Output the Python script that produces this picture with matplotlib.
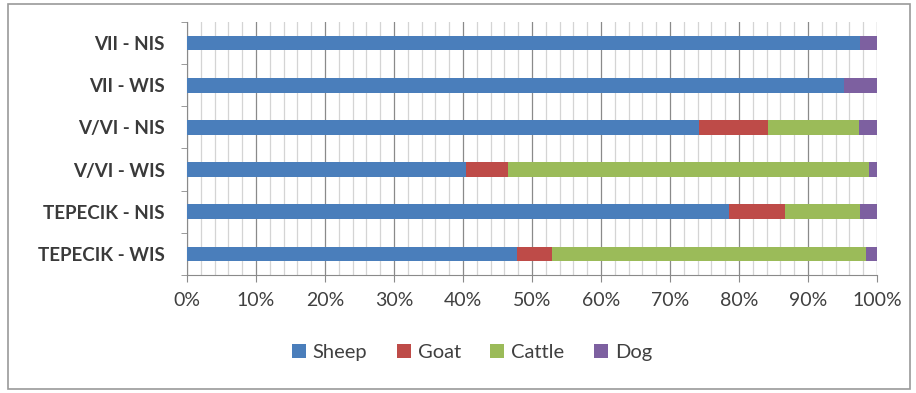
import numpy as np
import matplotlib.pyplot as plt
from matplotlib.patches import Rectangle
from matplotlib.ticker import MultipleLocator, PercentFormatter

plt.rcParams['font.family'] = ['Lato', 'DejaVu Sans']

# bone fragment proportions (%) per phase and context
groups = ['VII - NIS', 'VII - WIS', 'V/VI - NIS', 'V/VI - WIS', 'TEPECIK - NIS', 'TEPECIK - WIS']
sheep = [97.5, 95.2, 74.2, 40.4, 78.5, 47.8]
goat = [0.0, 0.0, 10.0, 6.1, 8.2, 5.1]
cattle = [0.0, 0.0, 13.2, 52.4, 10.8, 45.5]
dog = [2.5, 4.8, 2.6, 1.1, 2.5, 1.6]

species = ['Sheep', 'Goat', 'Cattle', 'Dog']
colours = ['#4a7ebb', '#be4b48', '#9bbb59', '#7d60a0']

fig = plt.figure(figsize=(9.16, 3.93), dpi=100)
ax = fig.add_axes([0.2042, 0.3003, 0.7532, 0.6437])

# plot top-down in the listed order
y = np.arange(len(groups))[::-1]
left = np.zeros(len(groups))
for vals, name, c in zip([sheep, goat, cattle, dog], species, colours):
    vals = np.array(vals)
    ax.barh(y, vals, left=left, height=0.35, color=c, label=name, zorder=3)
    left += vals

ax.set_xlim(0, 100)
ax.set_ylim(-0.5, len(groups) - 0.5)
ax.xaxis.set_major_locator(MultipleLocator(10))
ax.xaxis.set_minor_locator(MultipleLocator(2))
ax.xaxis.set_major_formatter(PercentFormatter(decimals=0))
ax.grid(which='major', axis='x', color='#8a8a8a', lw=0.9, zorder=1)
ax.grid(which='minor', axis='x', color='#d4d4d4', lw=0.9, zorder=0)

ax.set_yticks(y)
ax.set_yticklabels(groups, fontsize=13.5, fontweight='bold', color='#3a3a3a')
ax.set_yticks(np.arange(-0.5, len(groups)), minor=True)
ax.tick_params(axis='y', which='major', length=0, pad=16)
ax.tick_params(axis='y', which='minor', length=4, color='#8a8a8a', direction='out')
ax.tick_params(axis='x', which='major', length=5, color='#8a8a8a', labelsize=14,
               labelcolor='#404040', pad=7)
ax.tick_params(axis='x', which='minor', length=0)

for s in ['top', 'right']:
    ax.spines[s].set_visible(False)
for s in ['left', 'bottom']:
    ax.spines[s].set_color('#8a8a8a')

leg = fig.legend(loc='center', bbox_to_anchor=(0.515, 0.102), ncol=4, frameon=False,
                 fontsize=14.5, handlelength=0.7, handleheight=0.7, handletextpad=0.35,
                 columnspacing=1.45)
for t in leg.get_texts():
    t.set_color('#404040')

# chart border
fig.patches.append(Rectangle((8 / 916, 4 / 393), 902 / 916, 385 / 393, transform=fig.transFigure,
                             fill=False, edgecolor='#9a9a9a', lw=1.2))

fig.savefig('out.png', dpi=100)
